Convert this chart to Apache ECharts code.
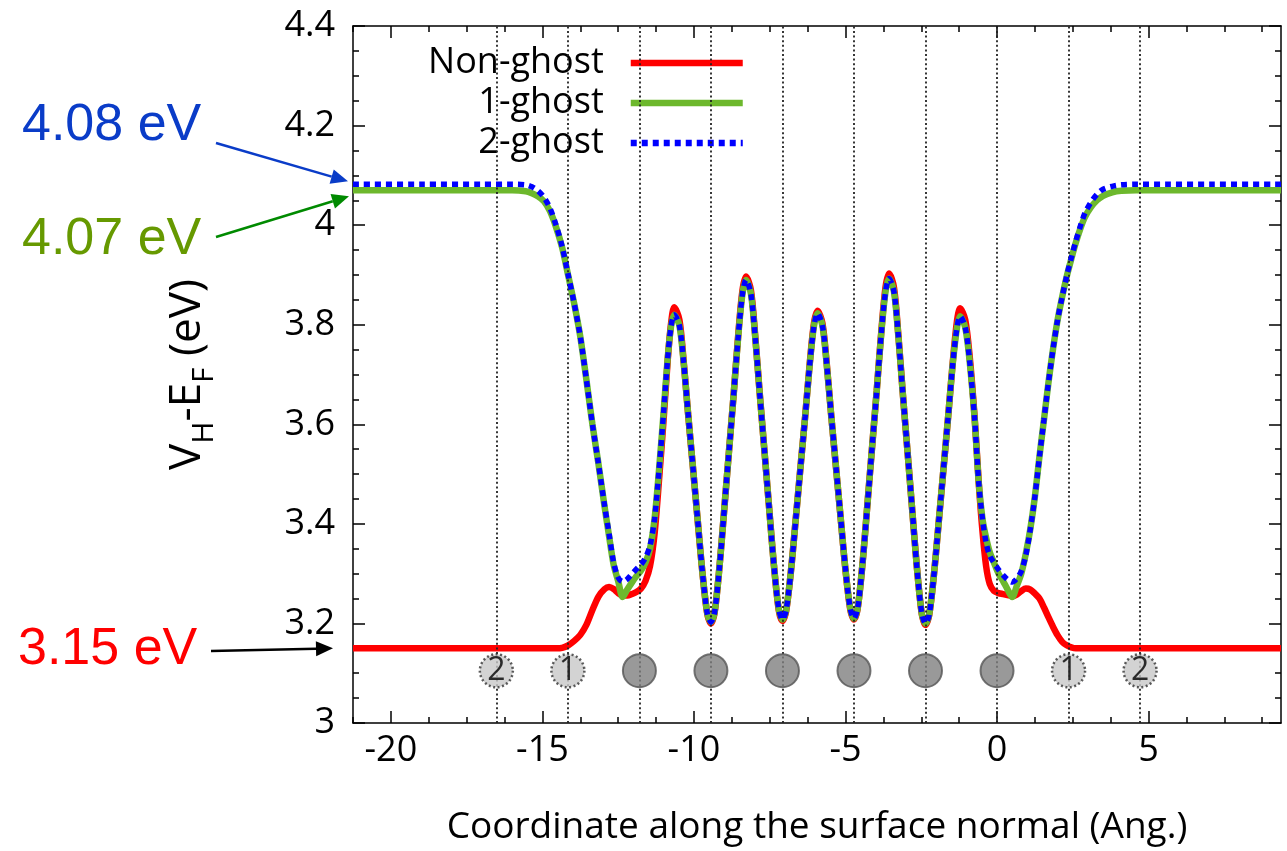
<!DOCTYPE html>
<html><head><meta charset="utf-8">
<script src="https://cdn.jsdelivr.net/npm/echarts@6/dist/echarts.min.js"></script>
<style>html,body{margin:0;padding:0;background:#fff}#c{width:1287px;height:851px}</style>
</head><body><div id="c"></div>
<script>
// ---- data (Å, eV) ----
const xs = [
  -21.25, -19, -17, -16, -15.55, -15.35, -15.15, -14.95, -14.75, -14.55, -14.35, -14.15, -13.95, -13.75, -13.55, -13.35, -13.15, -12.95, -12.8, -12.65, -12.5, -12.35, -12.2, -12.05, -11.9, -11.75, -11.6, -11.45, -11.3, -11.15, -11.0, -10.87, -10.76, -10.65,
  -10.48, -10.34, -10.19, -10.04, -9.89, -9.72, -9.56, -9.44,
  -9.32, -9.16, -8.99, -8.84, -8.69, -8.54, -8.40, -8.28,
  -8.12, -7.98, -7.83, -7.68, -7.53, -7.36, -7.20, -7.08,
  -6.96, -6.80, -6.63, -6.48, -6.33, -6.18, -6.04, -5.92,
  -5.76, -5.62, -5.47, -5.32, -5.17, -5.00, -4.84, -4.72,
  -4.60, -4.44, -4.27, -4.12, -3.97, -3.82, -3.68, -3.56,
  -3.40, -3.26, -3.11, -2.96, -2.81, -2.64, -2.48, -2.36,
  -2.24, -2.08, -1.91, -1.76, -1.61, -1.46, -1.32, -1.22,
  -1.05, -0.9, -0.74, -0.6, -0.48, -0.36, -0.24, -0.1, 0.05, 0.2, 0.35, 0.5, 0.65, 0.8, 0.95, 1.1, 1.25, 1.4, 1.55, 1.7, 1.85, 2.0, 2.15, 2.3, 2.45, 2.6, 2.75, 2.9, 3.1, 3.3, 3.5, 3.8, 4.1, 4.6, 5.6, 7.1, 9.37
];
const nonGhost = [
  3.15, 3.15, 3.15, 3.15, 3.15, 3.15, 3.15, 3.15, 3.15, 3.15, 3.151, 3.156, 3.165, 3.177, 3.197, 3.227, 3.254, 3.269, 3.273, 3.269, 3.261, 3.256, 3.256, 3.259, 3.263, 3.27, 3.285, 3.315, 3.38, 3.49, 3.61, 3.725, 3.80, 3.835,
  3.810, 3.727, 3.619, 3.518, 3.416, 3.302, 3.219, 3.200,
  3.221, 3.312, 3.437, 3.549, 3.660, 3.779, 3.869, 3.897,
  3.869, 3.779, 3.662, 3.551, 3.440, 3.316, 3.226, 3.205,
  3.224, 3.305, 3.417, 3.517, 3.616, 3.722, 3.803, 3.828,
  3.803, 3.723, 3.617, 3.518, 3.419, 3.307, 3.227, 3.208,
  3.229, 3.319, 3.444, 3.556, 3.667, 3.785, 3.875, 3.903,
  3.875, 3.783, 3.663, 3.550, 3.437, 3.310, 3.218, 3.197,
  3.216, 3.299, 3.413, 3.515, 3.617, 3.725, 3.808, 3.833,
  3.81, 3.735, 3.615, 3.48, 3.385, 3.315, 3.279, 3.265, 3.261, 3.259, 3.257, 3.255, 3.258, 3.265, 3.27, 3.268, 3.26, 3.25, 3.232, 3.212, 3.193, 3.176, 3.163, 3.156, 3.152, 3.15, 3.15, 3.15, 3.15, 3.15, 3.15, 3.15, 3.15, 3.15, 3.15, 3.15, 3.15
];
const ghost1 = [
  4.07, 4.07, 4.07, 4.07, 4.068, 4.064, 4.058, 4.048, 4.028, 3.996, 3.955, 3.899, 3.842, 3.776, 3.69, 3.60, 3.52, 3.435, 3.375, 3.318, 3.285, 3.253, 3.268, 3.282, 3.295, 3.306, 3.322, 3.35, 3.41, 3.51, 3.625, 3.73, 3.795, 3.82,
  3.798, 3.724, 3.619, 3.518, 3.416, 3.302, 3.220, 3.203,
  3.222, 3.312, 3.437, 3.549, 3.660, 3.776, 3.862, 3.890,
  3.862, 3.776, 3.662, 3.551, 3.440, 3.316, 3.228, 3.208,
  3.226, 3.305, 3.417, 3.517, 3.616, 3.720, 3.798, 3.823,
  3.798, 3.720, 3.617, 3.518, 3.419, 3.308, 3.229, 3.210,
  3.230, 3.319, 3.444, 3.556, 3.667, 3.782, 3.866, 3.893,
  3.866, 3.780, 3.663, 3.550, 3.437, 3.310, 3.219, 3.200,
  3.217, 3.299, 3.413, 3.515, 3.617, 3.722, 3.795, 3.817,
  3.795, 3.725, 3.612, 3.48, 3.41, 3.372, 3.343, 3.322, 3.30, 3.285, 3.268, 3.253, 3.275, 3.30, 3.34, 3.39, 3.455, 3.535, 3.61, 3.685, 3.752, 3.81, 3.856, 3.897, 3.932, 3.965, 3.993, 4.016, 4.036, 4.05, 4.059, 4.066, 4.069, 4.07, 4.07, 4.07, 4.07
];
const ghost2 = [
  4.082, 4.082, 4.082, 4.082, 4.081, 4.077, 4.069, 4.056, 4.034, 4.0, 3.957, 3.9, 3.842, 3.776, 3.69, 3.60, 3.52, 3.437, 3.38, 3.322, 3.292, 3.284, 3.289, 3.299, 3.309, 3.318, 3.332, 3.356, 3.41, 3.51, 3.625, 3.73, 3.795, 3.82,
  3.798, 3.724, 3.619, 3.518, 3.416, 3.302, 3.220, 3.203,
  3.222, 3.312, 3.437, 3.549, 3.660, 3.776, 3.862, 3.890,
  3.862, 3.776, 3.662, 3.551, 3.440, 3.316, 3.228, 3.208,
  3.226, 3.305, 3.417, 3.517, 3.616, 3.720, 3.798, 3.823,
  3.798, 3.720, 3.617, 3.518, 3.419, 3.308, 3.229, 3.210,
  3.230, 3.319, 3.444, 3.556, 3.667, 3.782, 3.866, 3.893,
  3.866, 3.780, 3.663, 3.550, 3.437, 3.310, 3.219, 3.200,
  3.217, 3.299, 3.413, 3.515, 3.617, 3.722, 3.795, 3.817,
  3.795, 3.725, 3.612, 3.48, 3.41, 3.362, 3.336, 3.322, 3.308, 3.297, 3.288, 3.283, 3.29, 3.305, 3.337, 3.39, 3.455, 3.535, 3.61, 3.685, 3.752, 3.81, 3.856, 3.898, 3.934, 3.968, 3.998, 4.024, 4.046, 4.062, 4.072, 4.078, 4.081, 4.082, 4.082, 4.082, 4.082
];
const seriesNames = ['Non-ghost', '1-ghost', '2-ghost'];
const atomX = [-11.8, -9.44, -7.08, -4.72, -2.36, 0];
const ghostX = [-16.52, -14.16, 2.36, 4.72];
const ghostLabels = ['2', '1', '1', '2'];
const atomRowY = 3.105;
const xMin = -21.25, xMax = 9.37;
const xTickValues = [-20, -15, -10, -5, 0, 5];
const xMinorValues = [-21.25, -18.75, -17.5, -16.25, -13.75, -12.5, -11.25, -8.75, -7.5, -6.25, -3.75, -2.5, -1.25, 1.25, 2.5, 3.75, 6.25, 7.5, 8.75];
const annotations = [
  { text: '4.08 eV', color: '#0a3cc8', arrow: '#0a3cc8', textX: 22, textY: 126, fromX: 216, fromY: 143, tipX: 348, tipValue: 4.088 },
  { text: '4.07 eV', color: '#669900', arrow: '#008a00', textX: 22, textY: 240, fromX: 216, fromY: 237, tipX: 349, tipValue: 4.058 },
  { text: '3.15 eV', color: '#ff0000', arrow: '#000000', textX: 18, textY: 650, fromX: 211, fromY: 651, tipX: 333, tipValue: 3.15 }
];

const FONT = '"Open Sans", "Noto Sans", sans-serif';
const zip = ys => xs.map((x, i) => [x, ys[i]]);
const chart = echarts.init(document.getElementById('c'), null, { renderer: 'canvas' });

const axisLineStyle = { color: '#000', width: 1.5 };
const baseX = { type: 'value', min: xMin, max: xMax, splitLine: { show: false } };
const hiddenSymbol = { color: 'rgba(0,0,0,0)', borderWidth: 0, opacity: 0 };
const option = {
  backgroundColor: '#fff',
  animation: false,
  grid: { left: 353, right: 6, top: 26, bottom: 125, containLabel: false },
  legend: {
    data: seriesNames.map(n => ({ name: n, itemStyle: hiddenSymbol })),
    orient: 'vertical', align: 'right', right: 536, top: 40,
    itemWidth: 112, itemHeight: 20, itemGap: 4,
    lineStyle: { width: 6.5 },
    itemStyle: hiddenSymbol,
    textStyle: { fontSize: 36, fontFamily: FONT, color: '#000', padding: [0, 22, 0, 0] }
  },
  xAxis: [
    Object.assign({}, baseX, {
      position: 'bottom',
      axisLine: { show: true, onZero: false, lineStyle: axisLineStyle },
      axisTick: { show: true, inside: true, length: 12, customValues: xTickValues, lineStyle: axisLineStyle },
      axisLabel: { show: true, customValues: xTickValues, fontSize: 36, fontFamily: FONT, color: '#000', margin: 10 },
      name: 'Coordinate along the surface normal (Ang.)', nameLocation: 'middle', nameGap: 86,
      nameTextStyle: { fontSize: 37, fontFamily: FONT, color: '#000' }
    }),
    Object.assign({}, baseX, {
      position: 'bottom',
      axisLine: { show: false, onZero: false },
      axisTick: { show: true, inside: true, length: 6, customValues: xMinorValues, lineStyle: axisLineStyle },
      axisLabel: { show: false }
    }),
    Object.assign({}, baseX, {
      position: 'top',
      axisLine: { show: true, onZero: false, lineStyle: axisLineStyle },
      axisTick: { show: true, inside: true, length: 12, customValues: xTickValues, lineStyle: axisLineStyle },
      axisLabel: { show: false }
    }),
    Object.assign({}, baseX, {
      position: 'top',
      axisLine: { show: false, onZero: false },
      axisTick: { show: true, inside: true, length: 6, customValues: xMinorValues, lineStyle: axisLineStyle },
      axisLabel: { show: false }
    })
  ],
  yAxis: [
    {
      type: 'value', min: 3, max: 4.4, interval: 0.2, position: 'left',
      axisLine: { show: true, onZero: false, lineStyle: axisLineStyle },
      axisTick: { show: true, inside: true, length: 12, lineStyle: axisLineStyle },
      minorTick: { show: true, splitNumber: 4, length: 6, lineStyle: axisLineStyle },
      splitLine: { show: false },
      axisLabel: { fontSize: 36, fontFamily: FONT, color: '#000', margin: 18 },
      name: '{m|V}{s|H}{m|-E}{s|F}{m| (eV)}', nameLocation: 'middle', nameGap: 136,
      nameTextStyle: {
        fontFamily: FONT, color: '#000', fontSize: 44,
        rich: {
          m: { fontSize: 44, fontFamily: FONT, color: '#000', lineHeight: 52, verticalAlign: 'top' },
          s: { fontSize: 30, fontFamily: FONT, color: '#000', lineHeight: 52, verticalAlign: 'top', padding: [24, 0, 0, 0] }
        }
      }
    },
    {
      type: 'value', min: 3, max: 4.4, interval: 0.2, position: 'right',
      axisLine: { show: true, onZero: false, lineStyle: axisLineStyle },
      axisTick: { show: true, inside: true, length: 12, lineStyle: axisLineStyle },
      minorTick: { show: true, splitNumber: 4, length: 6, lineStyle: axisLineStyle },
      splitLine: { show: false },
      axisLabel: { show: false }
    }
  ],
  series: [
    {
      name: 'layers', type: 'line', data: [], z: 1, silent: true,
      markLine: {
        silent: true, symbol: ['none', 'none'], label: { show: false },
        lineStyle: { color: '#222', width: 1.8, type: [2, 2.6] },
        data: atomX.concat(ghostX).map(x => ({ xAxis: x }))
      }
    },
    {
      name: 'Non-ghost', type: 'line', data: zip(nonGhost), symbol: 'none', smooth: 0.3, z: 3,
      lineStyle: { color: '#ff0000', width: 6.5 }, itemStyle: { color: '#ff0000' }
    },
    {
      name: '1-ghost', type: 'line', data: zip(ghost1), symbol: 'none', smooth: 0.3, z: 4,
      lineStyle: { color: '#6db82d', width: 6.5 }, itemStyle: { color: '#6db82d' }
    },
    {
      name: '2-ghost', type: 'line', data: zip(ghost2), symbol: 'none', smooth: 0.3, z: 5,
      lineStyle: { color: '#0000ff', width: 5.5, type: [6, 5] }, itemStyle: { color: '#0000ff' }
    },
    {
      name: 'atoms', type: 'scatter', z: 6, symbol: 'circle', symbolSize: 33,
      data: atomX.map(x => [x, atomRowY]),
      itemStyle: { color: '#808080', borderColor: '#555', borderWidth: 2 }
    },
    {
      name: 'ghosts', type: 'scatter', z: 6, symbol: 'circle', symbolSize: 33,
      data: ghostX.map((x, i) => ({ value: [x, atomRowY], label: { formatter: ghostLabels[i] } })),
      itemStyle: { color: '#c8c8c8', borderColor: '#333', borderWidth: 2.5, borderType: [2, 2.5] },
      label: { show: true, position: 'inside', fontSize: 32, fontFamily: FONT, color: '#000' }
    }
  ]
};
chart.setOption(option);

// annotation arrows pointing at the vacuum / bulk levels
const graphics = [];
annotations.forEach(a => {
  const tipY = chart.convertToPixel({ yAxisIndex: 0 }, a.tipValue);
  const dx = a.tipX - a.fromX, dy = tipY - a.fromY;
  const len = Math.sqrt(dx * dx + dy * dy), ux = dx / len, uy = dy / len;
  const headL = 17, headW = 7.5;
  const bx = a.tipX - ux * headL, by = tipY - uy * headL;
  graphics.push({ type: 'text', style: { text: a.text, x: a.textX, y: a.textY, fill: a.color, font: '52px "Liberation Sans", Arial, sans-serif', verticalAlign: 'middle', align: 'left' } });
  graphics.push({ type: 'line', shape: { x1: a.fromX, y1: a.fromY, x2: bx, y2: by }, style: { stroke: a.arrow, lineWidth: 2.5 } });
  graphics.push({ type: 'polygon', shape: { points: [[a.tipX, tipY], [bx - uy * headW, by + ux * headW], [bx + uy * headW, by - ux * headW]] }, style: { fill: a.arrow } });
});
chart.setOption({ graphic: graphics });
</script>
</body></html>
